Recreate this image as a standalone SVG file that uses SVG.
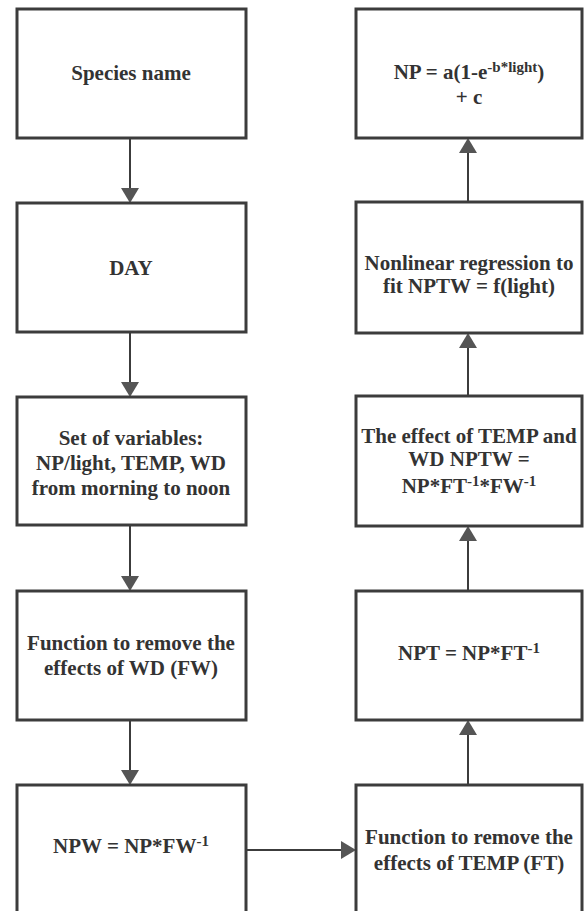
<svg xmlns="http://www.w3.org/2000/svg" width="585" height="911" viewBox="0 0 585 911">
<defs>
<style>
.box{fill:#fff;stroke:#3c3c3c;stroke-width:3}
.t{font-family:'Liberation Serif','DejaVu Serif',serif;font-weight:bold;font-size:21px;fill:#333;text-anchor:middle}
.sup{font-size:15px}
.c{stroke:#3c3c3c;stroke-width:2;fill:none}
.ah{fill:#555}
</style>
</defs>
<rect width="585" height="911" fill="#fff"/>
<g id="connectors">
<line class="c" x1="130" y1="138" x2="130" y2="190"/>
<polygon class="ah" points="121,188 139,188 130,203"/>
<line class="c" x1="130" y1="332" x2="130" y2="384"/>
<polygon class="ah" points="121,382 139,382 130,397"/>
<line class="c" x1="130" y1="525" x2="130" y2="578"/>
<polygon class="ah" points="121,576 139,576 130,591"/>
<line class="c" x1="130" y1="720" x2="130" y2="772"/>
<polygon class="ah" points="121,770 139,770 130,785"/>
<line class="c" x1="246" y1="850" x2="343" y2="850"/>
<polygon class="ah" points="341,841 341,859 356,850"/>
<line class="c" x1="468" y1="785" x2="468" y2="733"/>
<polygon class="ah" points="459,735 477,735 468,720"/>
<line class="c" x1="468" y1="591" x2="468" y2="539"/>
<polygon class="ah" points="459,541 477,541 468,526"/>
<line class="c" x1="468" y1="396" x2="468" y2="346"/>
<polygon class="ah" points="459,348 477,348 468,333"/>
<line class="c" x1="468" y1="202" x2="468" y2="151"/>
<polygon class="ah" points="459,153 477,153 468,138"/>
</g>
<g id="species">
<rect class="box" x="17" y="9" width="229" height="129"/>
<text class="t" x="131" y="80">Species name</text>
</g>
<g id="day">
<rect class="box" x="17" y="203" width="229" height="129"/>
<text class="t" x="131" y="275">DAY</text>
</g>
<g id="variables">
<rect class="box" x="17" y="397" width="229" height="128"/>
<text class="t" x="131" y="445">Set of variables:</text>
<text class="t" x="131" y="470">NP/light, TEMP, WD</text>
<text class="t" x="131" y="495">from morning to noon</text>
</g>
<g id="fw">
<rect class="box" x="17" y="591" width="229" height="129"/>
<text class="t" x="131" y="650">Function to remove the</text>
<text class="t" x="131" y="675">effects of WD (FW)</text>
</g>
<g id="npw">
<rect class="box" x="17" y="785" width="229" height="130"/>
<text class="t" x="131" y="853">NPW = NP*FW<tspan class="sup" dy="-7">-1</tspan></text>
</g>
<g id="ft">
<rect class="box" x="356" y="785" width="226" height="130"/>
<text class="t" x="469" y="844">Function to remove the</text>
<text class="t" x="469" y="870">effects of TEMP (FT)</text>
</g>
<g id="npt">
<rect class="box" x="356" y="591" width="226" height="129"/>
<text class="t" x="469" y="660">NPT = NP*FT<tspan class="sup" dy="-7">-1</tspan></text>
</g>
<g id="nptw">
<rect class="box" x="356" y="396" width="226" height="130"/>
<text class="t" x="469" y="443">The effect of TEMP and</text>
<text class="t" x="469" y="466">WD NPTW =</text>
<text class="t" x="469" y="493">NP*FT<tspan class="sup" dy="-7">-1</tspan><tspan dy="7">*FW</tspan><tspan class="sup" dy="-7">-1</tspan></text>
</g>
<g id="regression">
<rect class="box" x="356" y="202" width="226" height="131"/>
<text class="t" x="469" y="270">Nonlinear regression to</text>
<text class="t" x="469" y="293">fit NPTW = f(light)</text>
</g>
<g id="model">
<rect class="box" x="356" y="9" width="226" height="129"/>
<text class="t" x="469" y="79">NP = a(1-e<tspan class="sup" dy="-7">-b*light</tspan><tspan dy="7">)</tspan></text>
<text class="t" x="469" y="104">+ c</text>
</g>
</svg>
